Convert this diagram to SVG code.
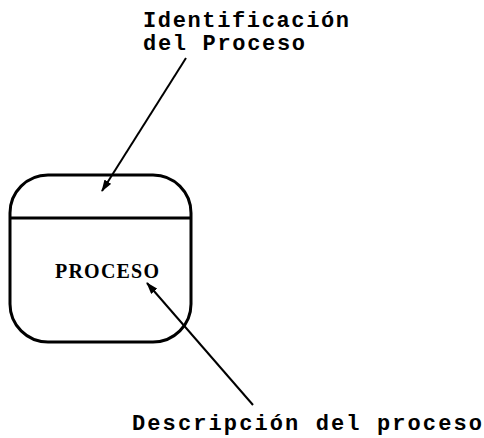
<svg xmlns="http://www.w3.org/2000/svg" width="484" height="438" viewBox="0 0 484 438">
<style>
.lbl{font-family:"Liberation Mono","Courier New",monospace;font-weight:bold;font-size:22px;fill:#000}
.ttl{font-family:"Liberation Serif","Times New Roman",serif;font-weight:bold;font-size:20px;fill:#000}
.shape{fill:#fff;stroke:#000;stroke-width:3}
.conn{stroke:#000;stroke-width:2;fill:none}
</style>
<defs>
<marker id="ah" viewBox="0 0 12 8" refX="11" refY="4" markerWidth="12" markerHeight="8" markerUnits="userSpaceOnUse" orient="auto">
<path d="M0,0 L12,4 L0,8 Z" fill="#000"/>
</marker>
</defs>
<rect width="484" height="438" fill="#fff"/>
<g id="proceso">
<rect class="shape" x="10" y="175" width="181" height="167" rx="38" ry="38"/>
<line x1="10" y1="218" x2="191" y2="218" stroke="#000" stroke-width="3"/>
<text class="ttl" x="107" y="278" text-anchor="middle" textLength="104" lengthAdjust="spacing">PROCESO</text>
</g>
<g id="label-identificacion">
<text class="lbl" x="143" y="27" textLength="206" lengthAdjust="spacing">Identificación</text>
<text class="lbl" x="143" y="50" textLength="162" lengthAdjust="spacing">del Proceso</text>
</g>
<g id="label-descripcion">
<text class="lbl" x="132" y="430" textLength="350" lengthAdjust="spacing">Descripción del proceso</text>
</g>
<g id="connectors">
<line class="conn" x1="186" y1="58" x2="102" y2="191" marker-end="url(#ah)"/>
<line class="conn" x1="253" y1="405" x2="147" y2="283" marker-end="url(#ah)"/>
</g>
</svg>
